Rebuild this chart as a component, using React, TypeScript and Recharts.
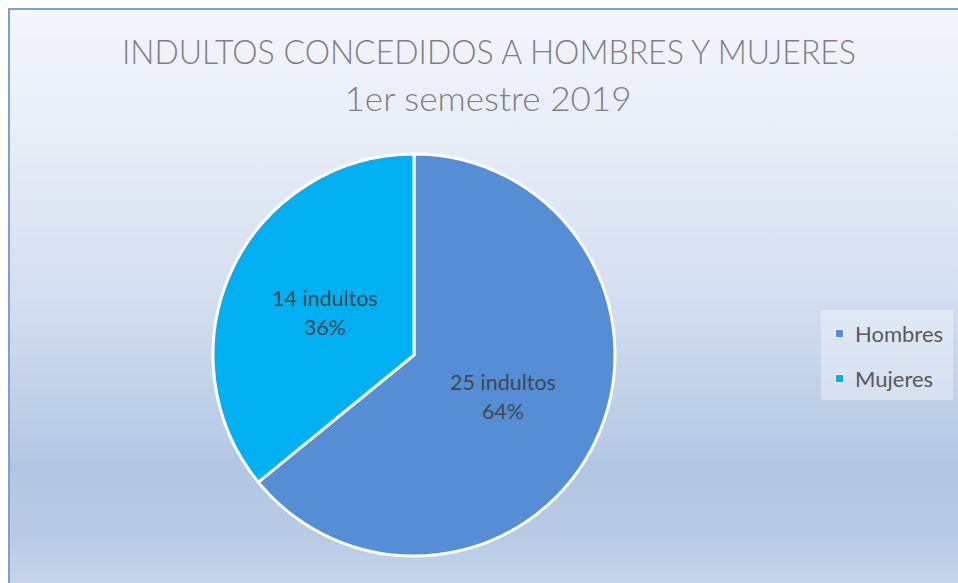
import React from "react";
import { PieChart, Pie, Cell, Legend } from "recharts";

const categories = ["Hombres", "Mujeres"];
const values = [25, 14];
const percents = ["64%", "36%"];
const colors = ["#558ed5", "#00b0f0"];
const titleLines = ["INDULTOS CONCEDIDOS A HOMBRES Y MUJERES", "1er semestre 2019"];

const data = categories.map((name, i) => ({ name, value: values[i], pct: percents[i] }));

const FONT = "Lato, 'Open Sans', sans-serif";
const RAD = Math.PI / 180;

const renderLabel = (props: any) => {
  const { cx, cy, midAngle, outerRadius, payload } = props;
  const r = outerRadius * 0.49;
  const x = cx + r * Math.cos(-midAngle * RAD);
  const y = cy + r * Math.sin(-midAngle * RAD);
  return (
    <text x={x} y={y} textAnchor="middle" fill="#404856" fontFamily={FONT} fontSize={21.5}>
      <tspan x={x} dy={-7}>{`${payload.value} indultos`}</tspan>
      <tspan x={x} dy={29}>{payload.pct}</tspan>
    </text>
  );
};

const renderLegend = () => (
  <div
    style={{
      width: 132,
      height: 90,
      background: "rgba(255,255,255,0.35)",
      boxSizing: "border-box",
      paddingLeft: 14,
      paddingTop: 1,
      fontFamily: FONT,
      fontSize: 22,
      color: "#595959",
    }}
  >
    {data.map((d, i) => (
      <div key={d.name} style={{ display: "flex", alignItems: "center", height: 45 }}>
        <span
          style={{
            display: "inline-block",
            width: 7,
            height: 7,
            background: colors[i],
            border: "1px solid #ffffff",
            marginRight: 11,
          }}
        />
        <span>{d.name}</span>
      </div>
    ))}
  </div>
);

export default function App() {
  return (
    <div
      style={{
        position: "fixed",
        left: 8,
        top: 8,
        width: 948,
        height: 573,
        borderLeft: "2px solid #7d9fd3",
        borderTop: "2px solid #7d9fd3",
        background:
          "linear-gradient(to bottom, #f3f6fb 0%, #e6ecf6 25%, #cfdbee 55%, #b2c6e3 80%, #b8cae5 92%, #c6d5eb 100%)",
        overflow: "hidden",
      }}
    >
      <svg width={948} height={130} style={{ position: "absolute", left: 0, top: 0 }}>
        <text
          x={479}
          y={54}
          textAnchor="middle"
          fill="#7f7f7f"
          fontFamily={FONT}
          fontWeight={300}
          fontSize={33}
          textLength={734}
          lengthAdjust="spacingAndGlyphs"
        >
          {titleLines[0]}
        </text>
        <text
          x={478}
          y={101}
          textAnchor="middle"
          fill="#7f7f7f"
          fontFamily={FONT}
          fontWeight={300}
          fontSize={33}
          textLength={287}
          lengthAdjust="spacingAndGlyphs"
        >
          {titleLines[1]}
        </text>
      </svg>
      <PieChart width={948} height={573} style={{ position: "absolute", left: 0, top: 0 }}>
        <Pie
          data={data}
          dataKey="value"
          nameKey="name"
          cx={399}
          cy={340}
          outerRadius={201}
          startAngle={90}
          endAngle={-270}
          stroke="#ffffff"
          strokeWidth={3}
          label={renderLabel}
          labelLine={false}
          isAnimationActive={false}
        >
          {data.map((d, i) => (
            <Cell key={d.name} fill={colors[i]} />
          ))}
        </Pie>
        <Legend
          content={renderLegend}
          wrapperStyle={{ position: "absolute", left: 811, top: 300, width: 132 }}
        />
      </PieChart>
    </div>
  );
}
